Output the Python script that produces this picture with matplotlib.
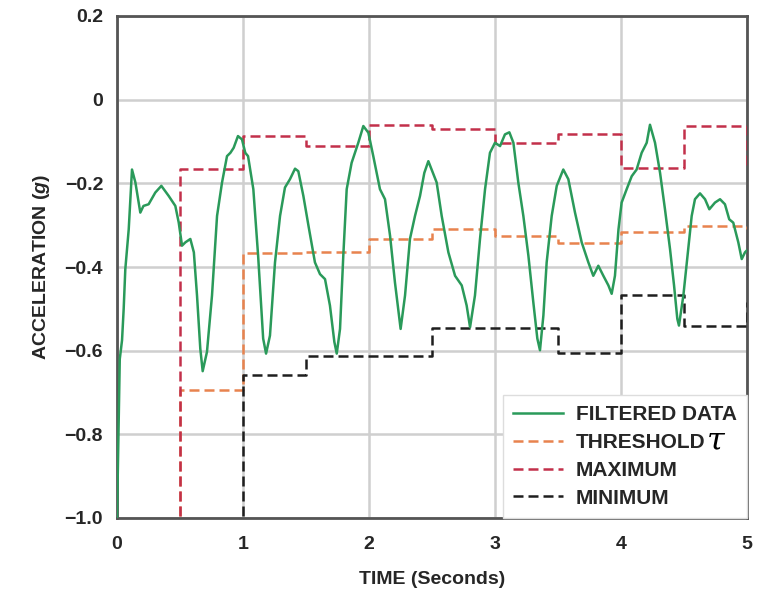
import matplotlib
matplotlib.use("Agg")
import matplotlib.pyplot as plt
import numpy as np

plt.rcParams['font.family'] = ['Liberation Sans', 'DejaVu Sans']
plt.rcParams['mathtext.fontset'] = 'custom'
plt.rcParams['mathtext.it'] = 'Liberation Sans:italic:bold'
plt.rcParams['mathtext.rm'] = 'Liberation Sans:bold'

# ---- data ----
t_filtered = [0.0, 0.012, 0.022, 0.04, 0.053, 0.066, 0.093, 0.119, 0.146, 0.185, 0.21, 0.251,
              0.304, 0.352, 0.41, 0.463, 0.49, 0.516, 0.543, 0.582, 0.61, 0.635, 0.661, 0.68,
              0.714, 0.754, 0.794, 0.833, 0.873, 0.9, 0.926, 0.96, 0.992, 1.018, 1.04, 1.082,
              1.12, 1.16, 1.183, 1.214, 1.254, 1.294, 1.333, 1.373, 1.413, 1.439, 1.479, 1.52,
              1.571, 1.611, 1.651, 1.69, 1.725, 1.744, 1.77, 1.796, 1.823, 1.862, 1.915, 1.955,
              1.995, 2.034, 2.087, 2.127, 2.167, 2.206, 2.251, 2.286, 2.325, 2.365, 2.405, 2.439,
              2.471, 2.497, 2.537, 2.577, 2.63, 2.683, 2.736, 2.775, 2.802, 2.841, 2.881, 2.921,
              2.96, 3.0, 3.04, 3.079, 3.114, 3.146, 3.185, 3.225, 3.265, 3.304, 3.336, 3.357,
              3.384, 3.41, 3.45, 3.49, 3.542, 3.582, 3.635, 3.688, 3.741, 3.78, 3.82, 3.86, 3.9,
              3.926, 3.952, 3.98, 4.005, 4.045, 4.085, 4.124, 4.164, 4.204, 4.23, 4.27, 4.31,
              4.349, 4.389, 4.421, 4.447, 4.46, 4.495, 4.534, 4.561, 4.587, 4.627, 4.667, 4.701,
              4.746, 4.786, 4.825, 4.859, 4.891, 4.931, 4.958, 4.984, 5.0]
v_filtered = [-1.0, -0.8, -0.62, -0.575, -0.5, -0.405, -0.31, -0.167, -0.198, -0.27, -0.254, -0.25,
              -0.222, -0.206, -0.23, -0.254, -0.294, -0.349, -0.341, -0.333, -0.365, -0.468, -0.595, -0.649,
              -0.603, -0.468, -0.278, -0.199, -0.135, -0.127, -0.115, -0.087, -0.095, -0.127, -0.135, -0.214,
              -0.373, -0.571, -0.607, -0.564, -0.389, -0.278, -0.21, -0.19, -0.165, -0.171, -0.23, -0.302,
              -0.389, -0.417, -0.429, -0.492, -0.579, -0.607, -0.548, -0.373, -0.214, -0.151, -0.103, -0.063,
              -0.079, -0.135, -0.214, -0.238, -0.325, -0.437, -0.548, -0.468, -0.333, -0.278, -0.23, -0.175,
              -0.147, -0.167, -0.198, -0.278, -0.365, -0.421, -0.444, -0.492, -0.544, -0.468, -0.333, -0.214,
              -0.127, -0.103, -0.111, -0.083, -0.078, -0.103, -0.198, -0.278, -0.373, -0.484, -0.571, -0.599,
              -0.516, -0.389, -0.278, -0.206, -0.167, -0.19, -0.27, -0.341, -0.389, -0.421, -0.397, -0.421, -0.444,
              -0.464, -0.421, -0.31, -0.246, -0.214, -0.183, -0.167, -0.127, -0.103, -0.06, -0.103, -0.175,
              -0.262, -0.357, -0.444, -0.524, -0.54, -0.468, -0.357, -0.278, -0.238, -0.224, -0.238, -0.262,
              -0.246, -0.238, -0.25, -0.286, -0.294, -0.341, -0.381, -0.365, -0.36]

t_steps = [0.0, 0.5, 1.0, 1.5, 2.0, 2.5, 3.0, 3.5, 4.0, 4.5, 5.0]
threshold = [-1.2, -0.695, -0.367, -0.365, -0.333, -0.31, -0.327, -0.343, -0.316, -0.302, -0.31]
maximum = [-1.2, -0.165, -0.088, -0.11, -0.06, -0.07, -0.103, -0.083, -0.164, -0.062, -0.155]
minimum = [-1.2, -1.2, -0.657, -0.612, -0.612, -0.545, -0.547, -0.605, -0.468, -0.541, -0.484]

x_ticks = [0, 1, 2, 3, 4, 5]
y_ticks = [-1.0, -0.8, -0.6, -0.4, -0.2, 0.0, 0.2]
y_ticklabels = ['\u22121.0', '\u22120.8', '\u22120.6', '\u22120.4', '\u22120.2', '0', '0.2']

# ---- plot ----
fig = plt.figure(figsize=(7.67, 5.90), dpi=100)
ax = fig.add_axes([117/767, 1-518/590, 630/767, 502/590])

dash = (0, (4, 2))
ax.step(t_steps, threshold, where='post', color='#e8834e', lw=1.8, ls=dash, label='THRESHOLD', zorder=3)
ax.step(t_steps, maximum, where='post', color='#c2304a', lw=1.8, ls=dash, label='MAXIMUM', zorder=3)
ax.step(t_steps, minimum, where='post', color='#1e1e1e', lw=1.8, ls=dash, label='MINIMUM', zorder=3)
ax.plot(t_filtered, v_filtered, color='#2a9a5a', lw=1.8, label='FILTERED DATA', zorder=4)

ax.set_xlim(0, 5)
ax.set_ylim(-1.0, 0.2)
ax.set_xticks(x_ticks)
ax.set_yticks(y_ticks)
ax.set_yticklabels(y_ticklabels)
ax.tick_params(axis='y', length=0, labelsize=14, pad=10)
ax.tick_params(axis='x', length=0, labelsize=14, pad=13)
for lab in ax.get_xticklabels() + ax.get_yticklabels():
    lab.set_fontweight('bold')
    lab.set_color('#262626')
ax.grid(True, color='#cfcfcf', lw=1.8)
ax.set_axisbelow(True)
for s in ax.spines.values():
    s.set_color('#555555')
    s.set_linewidth(2)

ax.set_xlabel('TIME (Seconds)', fontsize=14, fontweight='bold', color='#262626', labelpad=13)
ax.set_ylabel(r'ACCELERATION ($\mathit{g}$)', fontsize=14, fontweight='bold', color='#262626', labelpad=9)

handles, labels = ax.get_legend_handles_labels()
order = [3, 0, 1, 2]
leg = ax.legend([handles[i] for i in order], [labels[i] for i in order],
                loc='lower right', bbox_to_anchor=(1.0, 0.0), frameon=True, fancybox=False,
                prop={'weight': 'bold', 'size': 15}, handlelength=2.4, handletextpad=0.6,
                labelspacing=0.42, borderpad=0.5, borderaxespad=0.0)
leg.get_frame().set_edgecolor('#dddddd')
leg.get_frame().set_linewidth(1.0)
leg.get_frame().set_alpha(1.0)
for txt in leg.get_texts():
    txt.set_color('#262626')

fig.text(716/767, 1-442/590, r'$\tau$', fontsize=23, math_fontfamily='dejavuserif',
         ha='center', va='center', color='black', zorder=10)

fig.savefig('out.png', dpi=100)
